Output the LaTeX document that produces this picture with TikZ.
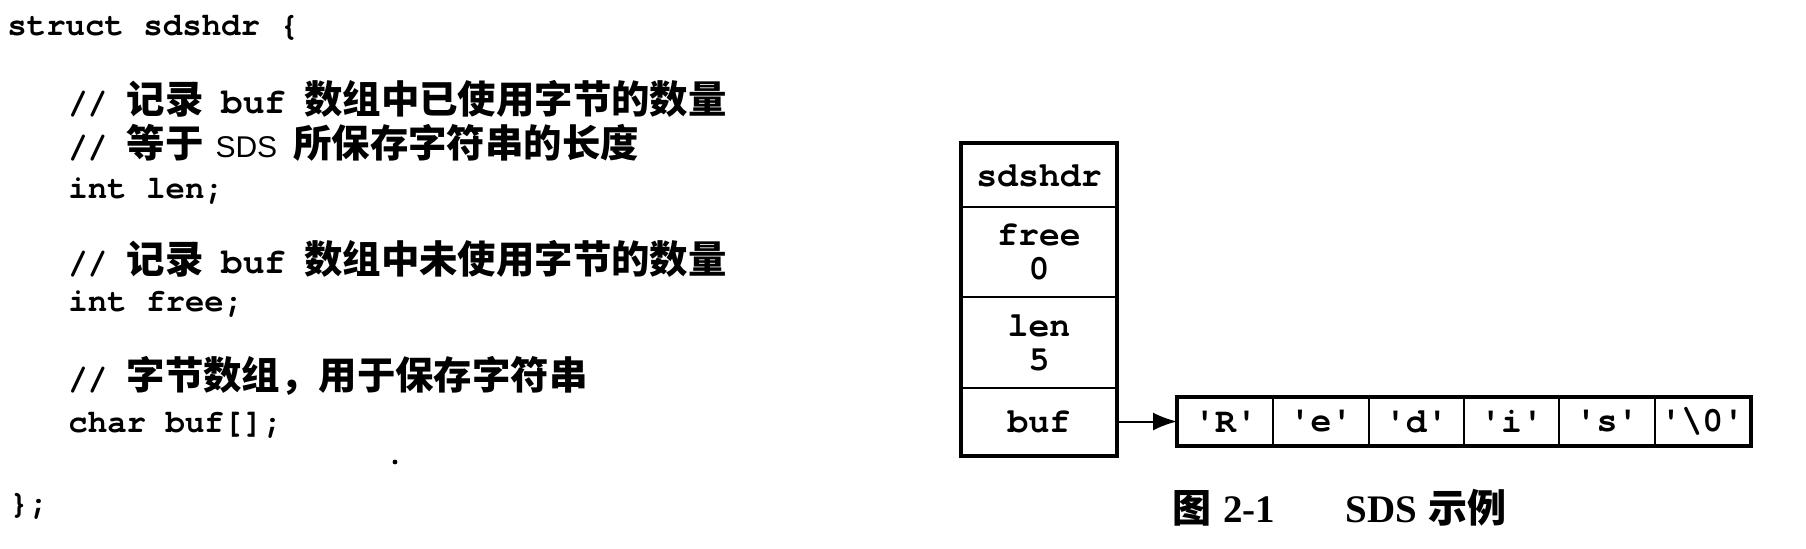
\documentclass[tikz,border=0pt]{standalone}
\usepackage{fontspec}
\usetikzlibrary{arrows.meta}
\newfontfamily\monof{texgyrecursor-bold.otf}
\newfontfamily\cjkf{Noto Sans CJK SC}
\newfontfamily\sansf{Liberation Sans}
\newfontfamily\seriff{Liberation Serif}
\newcommand\myzh[1]{{\cjkf\bfseries\fontsize{19.2}{20}\selectfont #1}}
\newcommand\mysans[1]{{\sansf\fontsize{15}{16}\selectfont #1}}
\newcommand\mybuf{{\fontsize{18}{20}\selectfont buf}}
\tikzset{
  codeline/.style={anchor=base west, inner sep=0pt, font=\monof\fontsize{16.2}{20}\selectfont},
  hcell/.style={draw, line width=1pt, minimum width=77pt, inner sep=0pt, align=center,
    font=\monof\fontsize{17.4}{17}\selectfont},
  acell/.style={draw, line width=1pt, minimum width=47.67pt, minimum height=23.5pt, inner sep=0pt,
    font=\monof\fontsize{17.4}{20}\selectfont},
  outer/.style={draw, line width=2pt},
  ptr/.style={line width=1pt, -{Latex[length=12pt,width=9pt]}},
  caption/.style={anchor=base west, inner sep=0pt, font=\fontsize{19.5}{22}\selectfont},
}
\begin{document}
\begin{tikzpicture}[x=0.5pt,y=-0.5pt]
\useasboundingbox (0,0) rectangle (1806,548);
% code
\node[codeline] (l1) at (7,35) {struct sdshdr \{};
\node[codeline] (l2) at (68,113) {// \myzh{记录}\hspace{9pt}\mybuf\hspace{9pt}\myzh{数组中已使用字节的数量}};
\node[codeline] (l3) at (68,157) {// \myzh{等于}\hspace{6pt}\mysans{SDS}\hspace{8pt}\myzh{所保存字符串的长度}};
\node[codeline] (l4) at (68,198) {int len;};
\node[codeline] (l5) at (68,273) {// \myzh{记录}\hspace{9pt}\mybuf\hspace{9pt}\myzh{数组中未使用字节的数量}};
\node[codeline] (l6) at (68,311) {int free;};
\node[codeline] (l7) at (68,389) {// \myzh{字节数组，用于保存字符串}};
\node[codeline] (l8) at (68,432) {char buf[];};
\node[codeline] (l9) at (9,513) {\};};
\fill (395,462) circle (1.2pt);
% struct boxes
\node[hcell, minimum height=31.5pt] (hdr) at (1039,175.5) {sdshdr};
\node[hcell, minimum height=45pt] (free) at (1039,252) {free\\0};
\node[hcell, minimum height=45.5pt] (len) at (1039,342.5) {len\\5};
\node[hcell, minimum height=33.5pt] (buf) at (1039,421.5) {buf};
\draw[outer] (hdr.north west) rectangle (buf.south east);
% array
\node[acell] (c1) at (1225.67,421.5) {'R'};
\node[acell] (c2) at (1321,421.5) {'e'};
\node[acell] (c3) at (1416.33,421.5) {'d'};
\node[acell] (c4) at (1511.67,421.5) {'i'};
\node[acell] (c5) at (1607,421.5) {'s'};
\node[acell] (c6) at (1702.33,421.5) {'\textbackslash 0'};
\draw[outer] (c1.north west) rectangle (c6.south east);
\draw[ptr] (buf.east) -- (c1.west);
% caption
\node[caption] (cap) at (1172,522) {\myzh{\fontsize{19.5}{22}\selectfont 图}\hspace{6pt}{\seriff\bfseries 2-1}\hspace{35pt}{\seriff\bfseries SDS}\hspace{6pt}\myzh{\fontsize{19.5}{22}\selectfont 示例}};
\end{tikzpicture}
\end{document}
